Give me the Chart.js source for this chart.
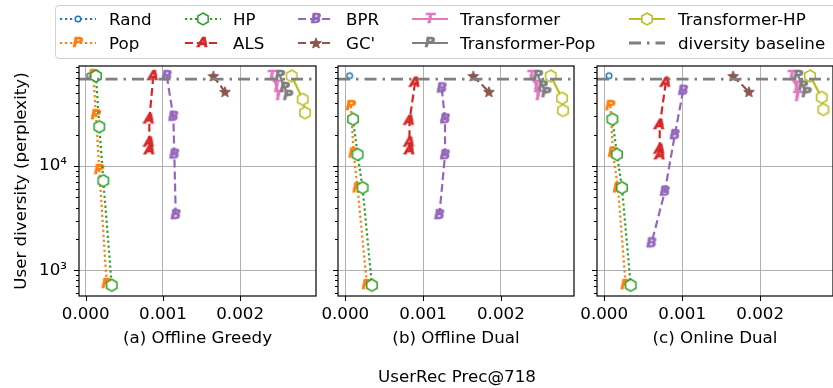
<!DOCTYPE html>
<html>
<head>
<meta charset="utf-8">
<script src="https://cdn.jsdelivr.net/npm/chart.js@4.4.0/dist/chart.umd.min.js"></script>
<style>
  html, body { margin: 0; padding: 0; background: #fff; }
  body { width: 833px; height: 388px; position: relative; overflow: hidden; font-family: "DejaVu Sans"; }
  canvas.panel { position: absolute; left: 0; top: 0; }
  #legend { position: absolute; left: 55px; top: 5px; width: 800px; height: 54px; border: 1px solid #d0d0d0; border-radius: 4px; box-sizing: border-box; background: #fff; }
  .handle { position: absolute; }
  .ltext { position: absolute; font-size: 16.7px; line-height: 20px; color: #000; white-space: nowrap; }
  #xlabel { position: absolute; left: 357px; width: 200px; top: 366px; text-align: center; font-size: 16.7px; line-height: 20px; }
</style>
</head>
<body>
<div id="legend"></div>
<canvas class="panel" id="p0" width="833" height="388"></canvas>
<canvas class="panel" id="p1" width="833" height="388"></canvas>
<canvas class="panel" id="p2" width="833" height="388"></canvas>
<div id="xlabel">UserRec Prec@718</div>
<script>
// Panels and axes
const panelTitles = ['(a) Offline Greedy', '(b) Offline Dual', '(c) Online Dual'];
const precTicks = [0, 0.001, 0.002];
const precRange = [[-0.000087, 0.002983], [-0.000094, 0.00294], [-0.000092, 0.002933]];
const divTicks = [600, 700, 800, 900, 1000, 2000, 3000, 4000, 5000, 6000, 7000, 8000, 9000,
                  10000, 20000, 30000, 40000, 50000, 60000, 70000, 80000, 90000];
const divRange = [567, 91000];
const baselineDiv = 68000;

// Each series: one array per panel (a, b, c)
const randPrec = [[0.00005], [0.000055], [0.000062]];
const randDiv = [[73400], [73400], [73400]];

const popPrec = [[0.000099, 0.000133, 0.000176, 0.000272], [0.000073, 0.000106, 0.000158, 0.000278], [0.00008, 0.000113, 0.000177, 0.000276]];
const popDiv = [[74500, 30800, 9160, 740], [37600, 13200, 6110, 722], [37600, 13400, 6110, 722]];

const hpPrec = [[0.000133, 0.000176, 0.000228, 0.000337], [0.000099, 0.000158, 0.000222, 0.000342], [0.000105, 0.000164, 0.000228, 0.00034]];
const hpDiv = [[72900, 23800, 7230, 718], [28100, 12900, 6190, 718], [28100, 12900, 6190, 718]];

const alsPrec = [[0.000876, 0.000824, 0.000824, 0.00083], [0.000897, 0.000825, 0.000825, 0.00083], [0.00079, 0.000712, 0.000712, 0.000718]];
const alsDiv = [[72900, 28000, 16800, 14200], [63000, 27200, 16800, 14200], [63000, 24700, 14400, 12700]];

const bprPrec = [[0.00105, 0.001135, 0.001148, 0.001166], [0.00124, 0.001282, 0.001282, 0.001209], [0.001012, 0.000905, 0.000777, 0.000606]];
const bprDiv = [[72900, 29700, 12900, 3390], [55600, 28100, 12700, 3390], [52700, 19800, 5680, 1815]];

const gcPrec = [[0.001653, 0.001804], [0.001645, 0.001846], [0.001653, 0.001855]];
const gcDiv = [[72900, 51500], [72900, 51500], [72900, 51500]];

const trPrec = [[0.00241, 0.002474, 0.002495], [0.002393, 0.002458, 0.002478], [0.002403, 0.002467, 0.002475]];
const trDiv = [[73000, 59000, 47000], [73000, 59000, 47000], [73000, 58000, 46000]];

const trPopPrec = [[0.002517, 0.00258, 0.002624], [0.002478, 0.00254, 0.002586], [0.002488, 0.00255, 0.002596]];
const trPopDiv = [[73000, 56000, 47000], [73000, 58000, 50000], [73000, 58000, 50000]];

const trHpPrec = [[0.002668, 0.002811, 0.002841], [0.002641, 0.002786, 0.002799], [0.002638, 0.002788, 0.002809]];
const trHpDiv = [[72900, 43600, 32400], [72900, 44600, 34100], [72900, 45500, 34800]];

// Marker images
function letterMarker(ch, color) {
    const c = document.createElement('canvas');
    c.width = 18; c.height = 18;
    const g = c.getContext('2d');
    g.font = 'italic bold 14px "DejaVu Sans"';
    g.textAlign = 'center';
    g.textBaseline = 'middle';
    g.fillStyle = color;
    g.strokeStyle = color;
    g.lineWidth = 0.6;
    g.fillText(ch, 9, 9.5);
    g.strokeText(ch, 9, 9.5);
    return c;
}

function hexMarker(color) {
    const c = document.createElement('canvas');
    c.width = 16; c.height = 16;
    const g = c.getContext('2d');
    g.beginPath();
    for (let k = 0; k < 6; k++) {
        const a = (-90 + 60 * k) * Math.PI / 180;
        const px = 8 + 6 * Math.cos(a), py = 8 + 6 * Math.sin(a);
        k ? g.lineTo(px, py) : g.moveTo(px, py);
    }
    g.closePath();
    g.fillStyle = '#fff';
    g.fill();
    g.strokeStyle = color;
    g.lineWidth = 1.5;
    g.stroke();
    return c;
}

function starMarker(color) {
    const c = document.createElement('canvas');
    c.width = 14; c.height = 14;
    const g = c.getContext('2d');
    g.beginPath();
    for (let k = 0; k < 10; k++) {
        const r = k % 2 ? 2.4 : 5.6;
        const a = (-90 + 36 * k) * Math.PI / 180;
        const px = 7 + r * Math.cos(a), py = 7.5 + r * Math.sin(a);
        k ? g.lineTo(px, py) : g.moveTo(px, py);
    }
    g.closePath();
    g.fillStyle = color;
    g.fill();
    g.strokeStyle = color;
    g.lineWidth = 1;
    g.stroke();
    return c;
}

function circleMarker(color) {
    const c = document.createElement('canvas');
    c.width = 10; c.height = 10;
    const g = c.getContext('2d');
    g.beginPath();
    g.arc(5, 5, 2.8, 0, Math.PI * 2);
    g.fillStyle = '#fff';
    g.fill();
    g.strokeStyle = color;
    g.lineWidth = 1.5;
    g.stroke();
    return c;
}

const DOT = [2.2, 2.8];
const DASH = [8, 4];
const SOLID = [];

const series = [
    { label: 'Rand', color: '#1f77b4', dash: DOT, marker: circleMarker('#1f77b4'), prec: randPrec, div: randDiv },
    { label: 'Pop', color: '#ff7f0e', dash: DOT, marker: letterMarker('P', '#ff7f0e'), prec: popPrec, div: popDiv },
    { label: 'HP', color: '#2ca02c', dash: DOT, marker: hexMarker('#2ca02c'), prec: hpPrec, div: hpDiv },
    { label: 'ALS', color: '#d62728', dash: DASH, marker: letterMarker('A', '#d62728'), prec: alsPrec, div: alsDiv },
    { label: 'BPR', color: '#9467bd', dash: DASH, marker: letterMarker('B', '#9467bd'), prec: bprPrec, div: bprDiv },
    { label: "GC'", color: '#8c564b', dash: DASH, marker: starMarker('#8c564b'), prec: gcPrec, div: gcDiv },
    { label: 'Transformer', color: '#e377c2', dash: SOLID, marker: letterMarker('T', '#e377c2'), prec: trPrec, div: trDiv },
    { label: 'Transformer-Pop', color: '#7f7f7f', dash: SOLID, marker: letterMarker('P', '#7f7f7f'), prec: trPopPrec, div: trPopDiv },
    { label: 'Transformer-HP', color: '#bcbd22', dash: SOLID, marker: hexMarker('#bcbd22'), prec: trHpPrec, div: trHpDiv }
];
const baselineStyle = { label: 'diversity baseline', color: '#7f7f7f', dash: [12, 6, 2.5, 6], width: 2.8 };

// Legend (two rows, five columns, filled column by column)
const legendHandleX = [60, 185, 298, 412, 629];
const legendTextX = [109, 233, 346, 460, 678];
const legendRowY = [19, 43];

function addLegendEntry(idx, s) {
    const col = Math.floor(idx / 2), row = idx % 2;
    const c = document.createElement('canvas');
    c.width = 36; c.height = 20;
    c.className = 'handle';
    c.style.left = legendHandleX[col] + 'px';
    c.style.top = (legendRowY[row] - 10) + 'px';
    const g = c.getContext('2d');
    g.strokeStyle = s.color;
    g.lineWidth = s.width || 2.2;
    g.setLineDash(s.dash);
    g.beginPath();
    g.moveTo(0, 10);
    g.lineTo(36, 10);
    g.stroke();
    if (s.marker) g.drawImage(s.marker, 18 - s.marker.width / 2, 10 - s.marker.height / 2);
    document.body.appendChild(c);
    const t = document.createElement('div');
    t.className = 'ltext';
    t.textContent = s.label;
    t.style.left = legendTextX[col] + 'px';
    t.style.top = (legendRowY[row] - 10) + 'px';
    document.body.appendChild(t);
}
series.forEach((s, i) => addLegendEntry(i, s));
addLegendEntry(9, baselineStyle);

// Chart defaults
Chart.defaults.font.family = '"DejaVu Sans"';
Chart.defaults.font.size = 16.7;
Chart.defaults.color = '#000';

const isDecade = v => Math.abs(Math.log10(v) - Math.round(Math.log10(v))) < 1e-9;

// Full box spines plus major / minor tick marks
const framePlugin = {
    id: 'frame',
    afterDatasetsDraw(chart) {
        const { ctx, chartArea: a, scales: { x, y } } = chart;
        ctx.save();
        ctx.strokeStyle = '#000';
        ctx.lineWidth = 1;
        ctx.beginPath();
        y.ticks.forEach(t => {
            const py = Math.round(y.getPixelForValue(t.value)) + 0.5;
            const len = isDecade(t.value) ? 5 : 3;
            ctx.moveTo(a.left - len, py);
            ctx.lineTo(a.left, py);
        });
        x.ticks.forEach(t => {
            const px = Math.round(x.getPixelForValue(t.value)) + 0.5;
            ctx.moveTo(px, a.bottom);
            ctx.lineTo(px, a.bottom + 5);
        });
        ctx.stroke();
        ctx.lineWidth = 1.2;
        ctx.strokeRect(a.left, a.top, a.right - a.left, a.bottom - a.top);
        ctx.restore();
    }
};

// Plot area edges for each panel
const plotLeft = [79, 338, 597];
const plotRight = [316, 574, 833];
const plotTop = 66, plotBottom = 296, xAxisHeight = 60;

function buildPanel(p) {
    const yw = p === 0 ? 79 : 20;
    const datasets = series.map((s, i) => ({
        label: s.label,
        data: s.prec[p].map((v, k) => ({ x: v, y: s.div[p][k] })),
        showLine: true,
        borderColor: s.color,
        backgroundColor: s.color,
        borderWidth: 2.2,
        borderDash: s.dash,
        borderCapStyle: 'butt',
        pointStyle: s.marker,
        pointRadius: 6,
        tension: 0,
        order: -i
    }));
    datasets.push({
        label: baselineStyle.label,
        data: [{ x: precRange[p][0], y: baselineDiv }, { x: precRange[p][1], y: baselineDiv }],
        showLine: true,
        borderColor: baselineStyle.color,
        borderWidth: baselineStyle.width,
        borderDash: baselineStyle.dash,
        borderCapStyle: 'butt',
        pointRadius: 0,
        order: -20
    });

    new Chart(document.getElementById('p' + p), {
        type: 'scatter',
        data: { datasets },
        plugins: [framePlugin],
        options: {
            responsive: false,
            animation: false,
            events: [],
            layout: {
                autoPadding: false,
                padding: {
                    left: plotLeft[p] - yw,
                    right: 833 - plotRight[p],
                    top: plotTop,
                    bottom: 388 - plotBottom - xAxisHeight
                }
            },
            plugins: { legend: { display: false }, tooltip: { enabled: false } },
            scales: {
                x: {
                    type: 'linear',
                    min: precRange[p][0],
                    max: precRange[p][1],
                    afterBuildTicks: axis => { axis.ticks = precTicks.map(v => ({ value: v })); },
                    afterFit: axis => { axis.height = xAxisHeight; },
                    ticks: { callback: v => v.toFixed(3), padding: 4, maxRotation: 0, autoSkip: false },
                    grid: { color: '#b0b0b0', lineWidth: 1, drawTicks: true, tickLength: 5, tickColor: 'transparent' },
                    border: { display: false },
                    title: { display: true, text: panelTitles[p], padding: { top: 0, bottom: 7.7 } }
                },
                y: {
                    type: 'logarithmic',
                    min: divRange[0],
                    max: divRange[1],
                    afterBuildTicks: axis => { axis.ticks = divTicks.map(v => ({ value: v })); },
                    afterFit: axis => { axis.width = yw; },
                    ticks: {
                        autoSkip: false,
                        padding: 7,
                        callback: v => (p === 0 && isDecade(v)) ? '10' + (Math.round(Math.log10(v)) === 3 ? '\u00b3' : '\u2074') : ''
                    },
                    grid: {
                        color: c => (c.tick && isDecade(c.tick.value)) ? '#b0b0b0' : 'rgba(0,0,0,0)',
                        lineWidth: 1,
                        drawTicks: true,
                        tickLength: 5,
                        tickColor: 'rgba(0,0,0,0)'
                    },
                    border: { display: false },
                    title: { display: p === 0, text: 'User diversity (perplexity)', padding: { top: 12, bottom: 0 } }
                }
            }
        }
    });
}

[0, 1, 2].forEach(buildPanel);
</script>
</body>
</html>
